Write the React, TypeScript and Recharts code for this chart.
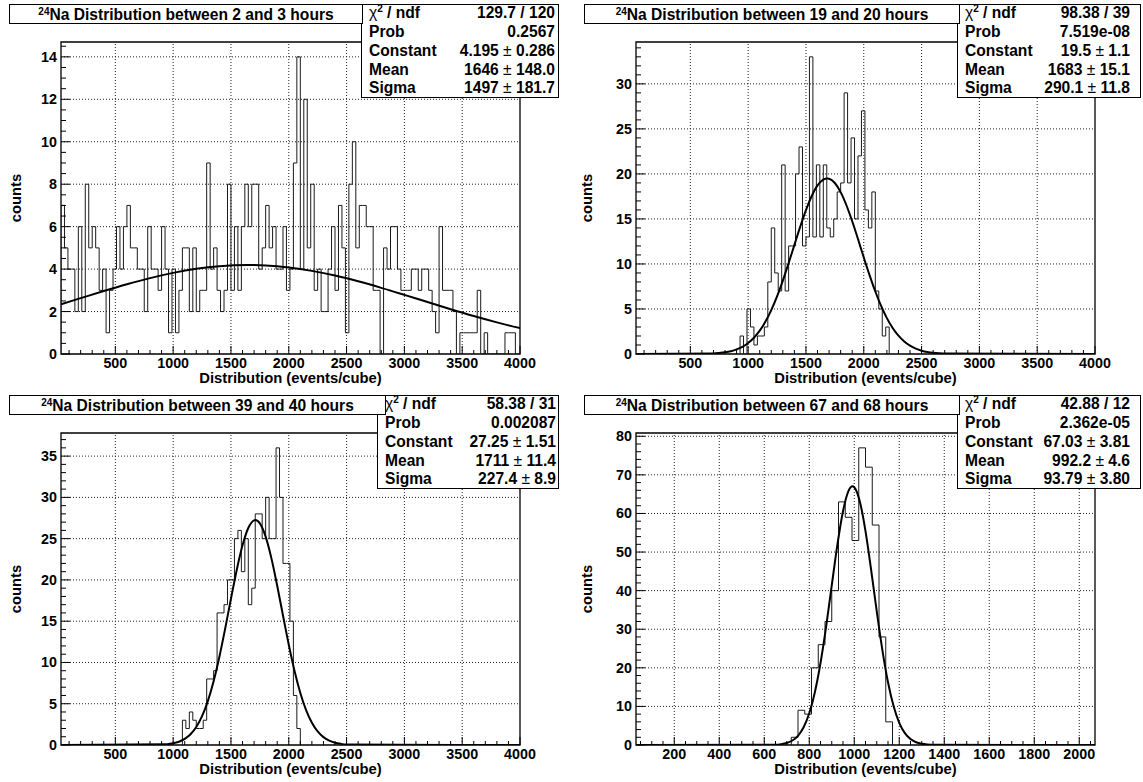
import React from 'react';
import { ComposedChart, Line, XAxis, YAxis, ReferenceLine, ReferenceArea } from 'recharts';

const FONT = '"Liberation Sans", Arial, Helvetica, sans-serif';
const BIN_WIDTH = 30;

// ---------- Panel titles ----------
const panelHours = ['2 and 3', '19 and 20', '39 and 40', '67 and 68'];

// ---------- Histogram contents (bin lower edge of first bin + counts) ----------
const hist1Start = 30;
const hist1Counts = [
  7, 5, 4, 4, 2, 6, 2, 8, 5, 6,
  5, 3, 4, 1, 3, 4, 6, 4, 6, 7,
  5, 5, 4, 4, 2, 6, 4, 4, 3, 6,
  4, 1, 4, 1, 3, 5, 5, 2, 5, 2,
  3, 3, 9, 4, 5, 3, 2, 3, 8, 3,
  6, 3, 6, 8, 6, 8, 8, 4, 5, 7,
  5, 6, 4, 4, 6, 3, 4, 9, 14, 4,
  12, 5, 8, 3, 4, 2, 2, 4, 6, 3,
  7, 5, 1, 8, 10, 5, 7, 7, 6, 6,
  3, 3, 0, 5, 4, 6, 6, 4, 3, 3,
  3, 4, 4, 3, 4, 4, 3, 2, 1, 6,
  3, 3, 3, 2, 0, 1, 1, 1, 1, 1,
  3, 0, 1, 0, 0, 0, 0, 0, 1, 1,
  1, 0,
];
const hist2Start = 930;
const hist2Counts = [
  2, 0, 5, 3, 1, 2, 2, 3, 8, 14,
  9, 7, 21, 7, 12, 12, 20, 23, 12, 13,
  33, 13, 21, 13, 21, 14, 13, 15, 18, 19,
  29, 19, 24, 15, 22, 27, 16, 14, 18, 7,
  5, 2, 3,
];
const hist3Start = 1080;
const hist3Counts = [
  3, 2, 4, 3, 2, 2, 3, 8, 8, 9,
  16, 16, 17, 20, 20, 25, 26, 21, 25, 17,
  19, 28, 28, 25, 30, 25, 25, 36, 30, 22,
  22, 15, 6, 2,
];
const hist4Start = 720;
const hist4Counts = [2, 9, 8, 20, 26, 32, 40, 63, 59, 53, 77, 72, 57, 28, 6];

// ---------- Gaussian fit curves ----------
const fit1X = [30, 200, 400, 600, 800, 1000, 1200, 1400, 1646, 1800, 2000, 2200, 2400, 2600, 2800, 3000, 3200, 3400, 3600, 3800, 4000];
const fit1Y = [2.343, 2.631, 2.967, 3.286, 3.576, 3.822, 4.013, 4.139, 4.195, 4.173, 4.079, 3.917, 3.695, 3.424, 3.117, 2.787, 2.448, 2.112, 1.79, 1.49, 1.218];

const fit2X = [30, 700, 750, 800, 850, 900, 950, 1000, 1050, 1100, 1150, 1200, 1250, 1300, 1350, 1400, 1450, 1500, 1550, 1600, 1650, 1683, 1700, 1750, 1800, 1850, 1900, 1950, 2000, 2050, 2100, 2150, 2200, 2250, 2300, 2350, 2400, 2450, 2500, 2550, 2600, 2650, 2700, 4000];
const fit2Y = [0, 0.063, 0.111, 0.19, 0.316, 0.511, 0.801, 1.22, 1.804, 2.589, 3.606, 4.877, 6.402, 8.157, 10.09, 12.12, 14.12, 15.98, 17.55, 18.72, 19.37, 19.5, 19.47, 18.99, 17.98, 16.52, 14.74, 12.77, 10.73, 8.76, 6.94, 5.337, 3.984, 2.888, 2.03, 1.387, 0.92, 0.592, 0.37, 0.224, 0.132, 0.075, 0.042, 0];

const fit3X = [30, 950, 1000, 1050, 1100, 1150, 1200, 1250, 1300, 1350, 1400, 1450, 1500, 1550, 1600, 1650, 1700, 1711, 1750, 1800, 1850, 1900, 1950, 2000, 2050, 2100, 2150, 2200, 2250, 2300, 2350, 2400, 2450, 2500, 4000];
const fit3Y = [0, 0.101, 0.205, 0.399, 0.737, 1.3, 2.182, 3.491, 5.322, 7.728, 10.7, 14.1, 17.72, 21.21, 24.19, 26.29, 27.22, 27.25, 26.85, 25.24, 22.61, 19.29, 15.69, 12.15, 8.971, 6.308, 4.227, 2.699, 1.642, 0.952, 0.526, 0.277, 0.139, 0.066, 0];

const fit4X = [30, 650, 675, 700, 725, 750, 775, 800, 825, 850, 875, 900, 925, 950, 975, 992, 1000, 1025, 1050, 1075, 1100, 1125, 1150, 1175, 1200, 1225, 1250, 1275, 1300, 1325, 1350, 2070];
const fit4Y = [0, 0.086, 0.22, 0.523, 1.158, 2.389, 4.588, 8.211, 13.68, 21.24, 30.7, 41.34, 51.85, 60.57, 65.91, 67.03, 66.8, 63.05, 55.43, 45.4, 34.63, 24.6, 16.27, 10.03, 5.759, 3.079, 1.534, 0.711, 0.307, 0.124, 0.046, 0];

// ---------- Stats boxes ----------
const statLabels = ['chi2', 'Prob', 'Constant', 'Mean', 'Sigma'];
const stats1Values = ['129.7 / 120', '0.2567', '4.195 ± 0.286', '1646 ± 148.0', '1497 ± 181.7'];
const stats2Values = ['98.38 / 39', '7.519e-08', '19.5 ± 1.1', '1683 ± 15.1', '290.1 ± 11.8'];
const stats3Values = ['58.38 / 31', '0.002087', '27.25 ± 1.51', '1711 ± 11.4', '227.4 ± 8.9'];
const stats4Values = ['42.88 / 12', '2.362e-05', '67.03 ± 3.81', '992.2 ± 4.6', '93.79 ± 3.80'];

// ---------- Axis ticks ----------
const xMajorWide = [500, 1000, 1500, 2000, 2500, 3000, 3500, 4000];
const xMajorNarrow = [200, 400, 600, 800, 1000, 1200, 1400, 1600, 1800, 2000];
const yMajor1 = [0, 2, 4, 6, 8, 10, 12, 14];
const yMajor2 = [0, 5, 10, 15, 20, 25, 30];
const yMajor3 = [0, 5, 10, 15, 20, 25, 30, 35];
const yMajor4 = [0, 10, 20, 30, 40, 50, 60, 70, 80];

// ---------- Layout ----------
const CHART_W = 570;
const CHART_H = 391;
const MARGIN = { top: 42, right: 50, bottom: 0, left: 0 };
const Y_AXIS_W = 61;
const X_AXIS_H = 37;
const PLOT_L = 61;
const PLOT_R = CHART_W - 50;
const TICK_FONT = 14.3;

function gridSteps(step: number, lo: number, hi: number): number[] {
  const out: number[] = [];
  const start = Math.ceil(lo / step - 1e-9);
  for (let i = start; i * step <= hi + 1e-9; i++) {
    out.push(Math.round(i * step * 1000) / 1000);
  }
  return out;
}

function histPoints(start: number, counts: number[]) {
  const pts = [{ x: start, y: 0 }];
  counts.forEach((c, i) => pts.push({ x: start + i * BIN_WIDTH, y: c }));
  const end = start + counts.length * BIN_WIDTH;
  pts.push({ x: end, y: counts[counts.length - 1] });
  pts.push({ x: end, y: 0 });
  return pts;
}

function fitPoints(xs: number[], ys: number[]) {
  return xs.map((x, i) => ({ x, y: ys[i] }));
}

type PanelCfg = {
  left: number;
  top: number;
  hours: string;
  xDomain: [number, number];
  xMajor: number[];
  xMinorStep: number;
  yMax: number;
  yMajor: number[];
  yMinorStep: number;
  histStart: number;
  histCounts: number[];
  fitX: number[];
  fitY: number[];
  stats: string[];
  titleBox: { left: number; width: number };
  statBox: { left: number; width: number; padRight: number };
  yTitleX: number;
};

const panels: PanelCfg[] = [
  {
    left: 0, top: 0, hours: panelHours[0], xDomain: [30, 4000], xMajor: xMajorWide, xMinorStep: 100,
    yMax: 14.7, yMajor: yMajor1, yMinorStep: 0.5, histStart: hist1Start, histCounts: hist1Counts,
    fitX: fit1X, fitY: fit1Y, stats: stats1Values,
    titleBox: { left: 9, width: 354 }, statBox: { left: 361, width: 198, padRight: 3 }, yTitleX: 15.5,
  },
  {
    left: 575, top: 0, hours: panelHours[1], xDomain: [30, 4000], xMajor: xMajorWide, xMinorStep: 100,
    yMax: 34.65, yMajor: yMajor2, yMinorStep: 1, histStart: hist2Start, histCounts: hist2Counts,
    fitX: fit2X, fitY: fit2Y, stats: stats2Values,
    titleBox: { left: 584, width: 376 }, statBox: { left: 957, width: 184, padRight: 10 }, yTitleX: 587,
  },
  {
    left: 0, top: 391, hours: panelHours[2], xDomain: [30, 4000], xMajor: xMajorWide, xMinorStep: 100,
    yMax: 37.8, yMajor: yMajor3, yMinorStep: 1, histStart: hist3Start, histCounts: hist3Counts,
    fitX: fit3X, fitY: fit3Y, stats: stats3Values,
    titleBox: { left: 9, width: 377 }, statBox: { left: 377, width: 182, padRight: 2 }, yTitleX: 15.5,
  },
  {
    left: 575, top: 391, hours: panelHours[3], xDomain: [30, 2070], xMajor: xMajorNarrow, xMinorStep: 50,
    yMax: 80.85, yMajor: yMajor4, yMinorStep: 2, histStart: hist4Start, histCounts: hist4Counts,
    fitX: fit4X, fitY: fit4Y, stats: stats4Values,
    titleBox: { left: 584, width: 376 }, statBox: { left: 957, width: 184, padRight: 10 }, yTitleX: 587,
  },
];

function Panel({ cfg }: { cfg: PanelCfg }) {
  const [x0, x1] = cfg.xDomain;
  const xTicks = gridSteps(cfg.xMinorStep, x0, x1);
  const yTicks = gridSteps(cfg.yMinorStep, 0, cfg.yMax);
  const hist = histPoints(cfg.histStart, cfg.histCounts);
  const fit = fitPoints(cfg.fitX, cfg.fitY);
  const gridX = cfg.xMajor.filter((v) => v > x0 && v < x1);
  const gridY = cfg.yMajor.filter((v) => v > 0 && v < cfg.yMax);

  const xTick = (props: any) => {
    const { x, y, payload } = props;
    const v = payload.value;
    const major = cfg.xMajor.includes(v);
    return (
      <g>
        <line x1={x} x2={x} y1={y} y2={y - (major ? 8 : 4)} stroke="#000" strokeWidth={1} />
        {major && (
          <text x={x} y={y + 14} textAnchor="middle" fontFamily={FONT} fontWeight="bold" fontSize={TICK_FONT} fill="#000">
            {v}
          </text>
        )}
      </g>
    );
  };

  const yTick = (props: any) => {
    const { x, y, payload } = props;
    const v = payload.value;
    const major = cfg.yMajor.includes(v);
    return (
      <g>
        <line x1={x} x2={x + (major ? 9 : 5)} y1={y} y2={y} stroke="#000" strokeWidth={1} />
        {major && (
          <text x={x - 4} y={y + 5} textAnchor="end" fontFamily={FONT} fontWeight="bold" fontSize={TICK_FONT} fill="#000">
            {v}
          </text>
        )}
      </g>
    );
  };

  return (
    <div style={{ position: 'absolute', left: cfg.left, top: cfg.top, width: CHART_W, height: CHART_H }}>
      <ComposedChart width={CHART_W} height={CHART_H} margin={MARGIN}>
        <XAxis
          type="number"
          dataKey="x"
          domain={cfg.xDomain}
          ticks={xTicks}
          interval={0}
          allowDataOverflow
          axisLine={false}
          tickLine={false}
          tickSize={0}
          tickMargin={0}
          height={X_AXIS_H}
          tick={xTick}
        />
        <YAxis
          type="number"
          domain={[0, cfg.yMax]}
          ticks={yTicks}
          interval={0}
          allowDataOverflow
          axisLine={false}
          tickLine={false}
          tickSize={0}
          tickMargin={0}
          width={Y_AXIS_W}
          tick={yTick}
        />
        {gridX.map((v) => (
          <ReferenceLine
            key={'gx' + v}
            x={v}
            stroke="#222"
            strokeWidth={1}
            strokeDasharray="1 2"
            ifOverflow="visible"
          />
        ))}
        {gridY.map((v) => (
          <ReferenceLine
            key={'gy' + v}
            y={v}
            stroke="#222"
            strokeWidth={1}
            strokeDasharray="1 2"
            ifOverflow="visible"
          />
        ))}
        <Line
          data={hist}
          dataKey="y"
          type="stepAfter"
          stroke="#1a1a1a"
          strokeWidth={1}
          dot={false}
          activeDot={false}
          isAnimationActive={false}
        />
        <Line
          data={fit}
          dataKey="y"
          type="monotone"
          stroke="#000"
          strokeWidth={2}
          dot={false}
          activeDot={false}
          isAnimationActive={false}
        />
        <ReferenceArea
          x1={x0}
          x2={x1}
          y1={0}
          y2={cfg.yMax}
          fill="none"
          fillOpacity={0}
          stroke="#000"
          strokeWidth={1.3}
          ifOverflow="visible"
        />
      </ComposedChart>
    </div>
  );
}

const textBase: React.CSSProperties = {
  fontFamily: FONT,
  fontWeight: 'bold',
  fontSize: 15.6,
  color: '#000',
  whiteSpace: 'nowrap',
};

function StatLabel({ label }: { label: string }) {
  if (label === 'chi2') {
    return (
      <span>
        <span style={{ fontWeight: 'normal' }}>χ</span>
        <span style={{ fontSize: 10, position: 'relative', top: -6 }}>2</span> / ndf
      </span>
    );
  }
  return <span>{label}</span>;
}

function StatValue({ value }: { value: string }) {
  const parts = value.split('±');
  if (parts.length === 1) return <span>{value}</span>;
  return (
    <span>
      {parts[0]}
      <span style={{ fontWeight: 'normal' }}>±</span>
      {parts[1]}
    </span>
  );
}

const ROW_TOPS = [-0.9, 18.1, 37.4, 56.1, 73.6];

function Overlays({ cfg }: { cfg: PanelCfg }) {
  const t = cfg.top;
  const plotCenterX = cfg.left + (PLOT_L + PLOT_R) / 2;
  return (
    <>
      {/* stats box */}
      <div
        style={{
          ...textBase,
          position: 'absolute',
          left: cfg.statBox.left,
          top: t + 4,
          width: cfg.statBox.width,
          height: 94,
          border: '1px solid #000',
          background: '#fff',
          boxSizing: 'border-box',
        }}
      >
        {statLabels.map((lab, i) => (
          <div
            key={lab}
            style={{
              position: 'absolute',
              left: 7,
              right: cfg.statBox.padRight,
              top: ROW_TOPS[i],
              height: 18,
              lineHeight: '18px',
              display: 'flex',
              justifyContent: 'space-between',
            }}
          >
            <StatLabel label={lab} />
            <StatValue value={cfg.stats[i]} />
          </div>
        ))}
      </div>
      {/* title box */}
      <div
        style={{
          ...textBase,
          position: 'absolute',
          left: cfg.titleBox.left,
          top: t + 4,
          width: cfg.titleBox.width,
          height: 20,
          border: '1px solid #000',
          background: '#fff',
          boxSizing: 'border-box',
          textAlign: 'center',
          lineHeight: '18px',
          paddingTop: 1,
        }}
      >
        <span style={{ fontSize: 10, position: 'relative', top: -5 }}>24</span>
        Na Distribution between {cfg.hours} hours
      </div>
      {/* x axis title */}
      <div
        style={{
          ...textBase,
          fontSize: 14.8,
          position: 'absolute',
          left: plotCenterX - 150,
          width: 300,
          top: t + 371,
          height: 15,
          lineHeight: '15px',
          textAlign: 'center',
        }}
      >
        Distribution (events/cube)
      </div>
      {/* y axis title */}
      <div
        style={{
          ...textBase,
          fontSize: 14.8,
          position: 'absolute',
          left: cfg.yTitleX,
          top: t + 198,
          lineHeight: '18px',
          transform: 'translate(-50%, -50%) rotate(-90deg)',
        }}
      >
        counts
      </div>
    </>
  );
}

export default function App() {
  return (
    <div
      style={{
        position: 'absolute',
        left: 0,
        top: 0,
        width: 1143,
        height: 782,
        background: '#fff',
        overflow: 'hidden',
      }}
    >
      {panels.map((p, i) => (
        <Panel key={'p' + i} cfg={p} />
      ))}
      {panels.map((p, i) => (
        <Overlays key={'o' + i} cfg={p} />
      ))}
    </div>
  );
}
